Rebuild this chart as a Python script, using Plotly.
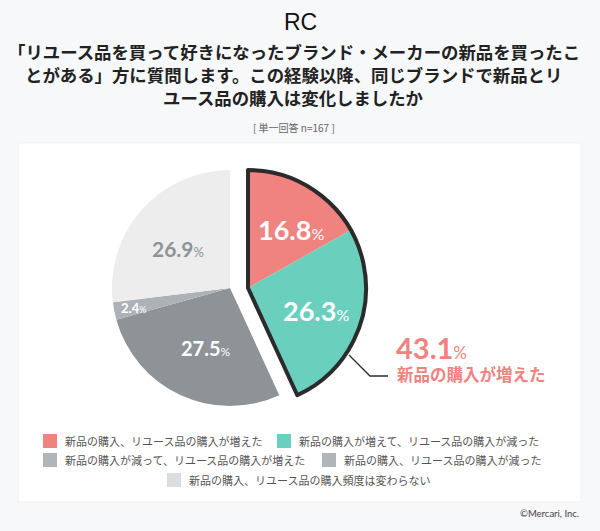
import plotly.graph_objects as go

W = 600
H = 531
JP = 'Noto Sans CJK JP'

title_lines = [
    '「リユース品を買って好きになったブランド・メーカーの新品を買ったこ',
    'とがある」方に質問します。この経験以降、同じブランドで新品とリ',
    'ユース品の購入は変化しましたか',
]
subtitle = '[ 単一回答 n=167 ]'
labels = [
    '新品の購入、リユース品の購入が増えた',
    '新品の購入が増えて、リユース品の購入が減った',
    '新品の購入が減って、リユース品の購入が増えた',
    '新品の購入、リユース品の購入が減った',
    '新品の購入、リユース品の購入頻度は変わらない',
]
values = [16.8, 26.3, 27.5, 2.4, 26.9]
pie_colors = ['#f08280', '#6bcfbd', '#8e9397', '#adb2b6', '#ededed']
legend_colors = ['#f08280', '#6bcfbd', '#b0b5ba', '#b0b5ba', '#dcdddf']
total_up = 43.1
total_up_label = '新品の購入が増えた'

R = 118
CX_LEFT, CX_RIGHT, CY = 230, 248, 288


def px(x):
    return x / W


def py(y):
    return 1 - y / H


def dom(cx, cy, r):
    return dict(x=[px(cx - r), px(cx + r)], y=[py(cy + r), py(cy - r)])


rest = sum(values[2:])
up = sum(values[:2])
clear = 'rgba(0,0,0,0)'

fig = go.Figure()

# grey half, the pulled slices left empty
fig.add_trace(go.Pie(
    values=[up] + values[2:], sort=False, direction='clockwise', rotation=0,
    domain=dom(CX_LEFT, CY, R), textinfo='none', hoverinfo='skip', showlegend=False,
    marker=dict(colors=[clear] + pie_colors[2:], line=dict(width=0)),
))
# pulled slices
fig.add_trace(go.Pie(
    values=values[:2] + [rest], sort=False, direction='clockwise', rotation=0,
    domain=dom(CX_RIGHT, CY, R), textinfo='none', hoverinfo='skip', showlegend=False,
    marker=dict(colors=pie_colors[:2] + [clear], line=dict(width=0)),
))
# dark outline around the pulled part
fig.add_trace(go.Pie(
    values=[up, rest], sort=False, direction='clockwise', rotation=0,
    domain=dom(CX_RIGHT, CY, R), textinfo='none', hoverinfo='skip', showlegend=False,
    marker=dict(colors=[clear, clear], line=dict(color=['#2b2b2b', clear], width=[4, 0])),
))

ann = []


def text(x, y, s, size, color, anchor='center', family=JP):
    ann.append(dict(x=px(x), y=py(y), xref='paper', yref='paper', text=s, showarrow=False,
                    xanchor=anchor, yanchor='middle', font=dict(family=family, size=size, color=color)))


def pct(v, big, small):
    return f'<b style="font-size:{big}px">{v}</b><span style="font-size:{small}px">%</span>'


text(300, 22, 'RC', 23, '#111111', family='Liberation Sans')
for y, line in zip([51, 74, 97], title_lines):
    text(293.5, y, f'<b>{line}</b>', 17.4, '#222222')
text(294, 128, subtitle, 10, '#666666')

text(291, 229, pct(values[0], 27, 16), 27, '#ffffff', family='Lato')
text(316, 310, pct(values[1], 27, 16), 27, '#ffffff', family='Lato')
text(206, 348, pct(values[2], 20, 12), 20, '#ffffff', family='Lato')
text(133, 308, pct(values[3], 13, 9), 13, '#ffffff', family='Lato')
text(178, 248, pct(values[4], 21, 13), 21, '#8e9397', family='Lato')
text(431, 347, pct(total_up, 29, 17), 29, '#f08280', family='Lato')
text(471, 374, f'<b>{total_up_label}</b>', 16.5, '#f08280')
text(581, 513, '©Mercari, Inc.', 9.5, '#444444', anchor='right', family='Lato')

shapes = [
    dict(type='rect', xref='paper', yref='paper', x0=px(18), x1=px(581), y0=py(502), y1=py(143),
         fillcolor='#ffffff', line=dict(width=1, color='#f0f1f3'), layer='below'),
    dict(type='path', xref='paper', yref='paper', layer='above', line=dict(color='#2b2b2b', width=1.3),
         path=f'M {px(349)} {py(355)} L {px(370)} {py(376)} L {px(388)} {py(376)}'),
]

legend_pos = [(43, 441), (277, 441), (43, 460), (322, 460), (167, 480)]
for (x, y), c, lab in zip(legend_pos, legend_colors, labels):
    shapes.append(dict(type='rect', xref='paper', yref='paper', x0=px(x), x1=px(x + 14),
                       y0=py(y + 7), y1=py(y - 7), fillcolor=c, line=dict(width=0)))
    text(x + 20, y, lab, 11, '#555555', anchor='left')

fig.update_layout(
    width=W, height=H, margin=dict(l=0, r=0, t=0, b=0), paper_bgcolor='#f7f8fa',
    annotations=ann, shapes=shapes, showlegend=False,
)

# page margin would push the figure 8px off
fig.write_html('out.html', config=dict(displayModeBar=False),
               post_script="document.body.style.margin='0';")
